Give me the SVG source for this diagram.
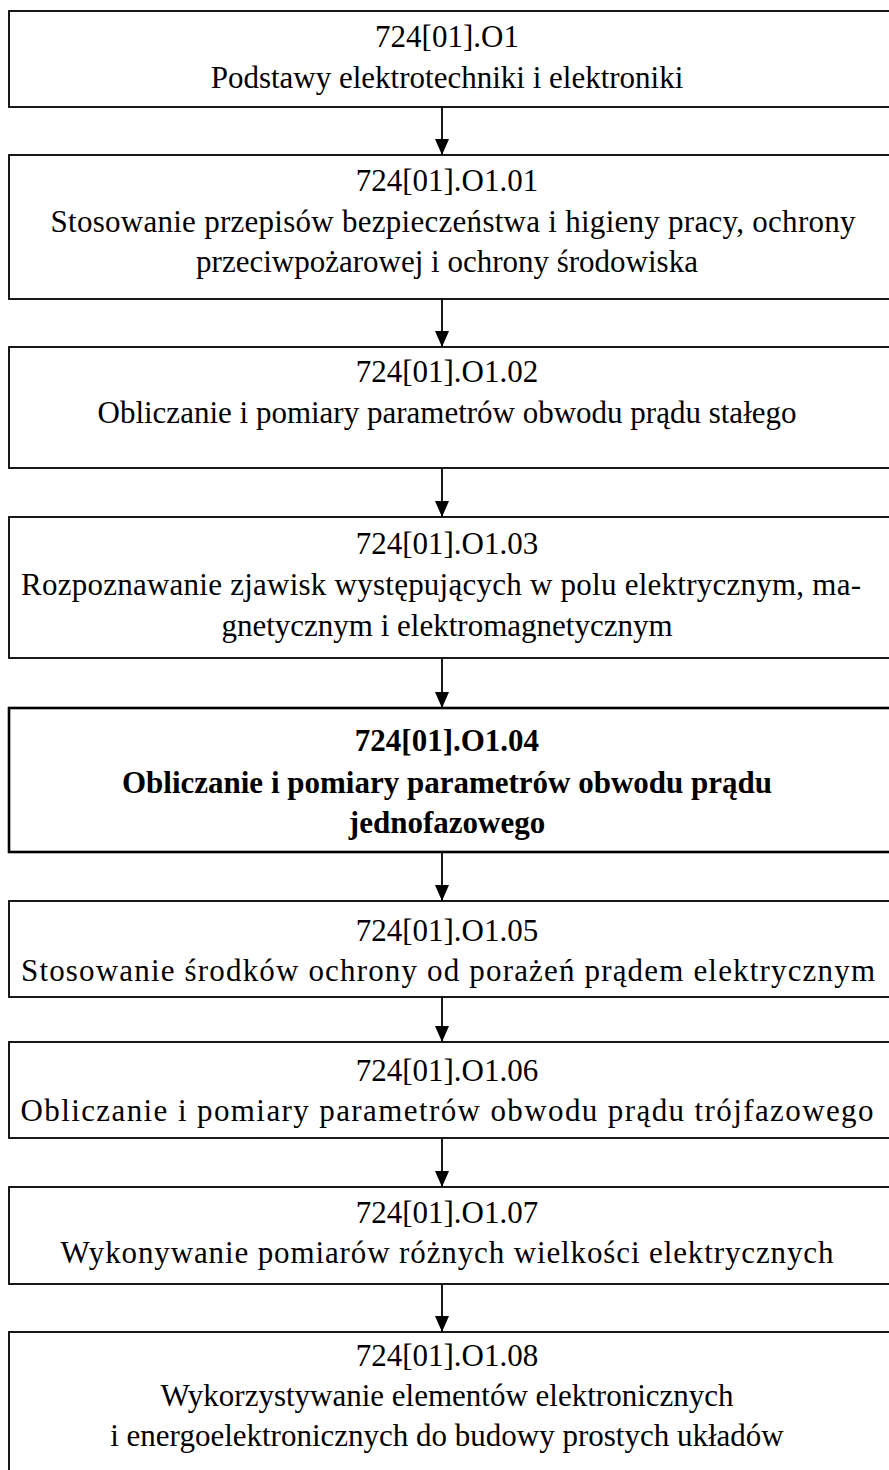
<svg xmlns="http://www.w3.org/2000/svg" width="889" height="1470" viewBox="0 0 889 1470">
<defs>
<marker id="ah" markerWidth="16" markerHeight="14" refX="16" refY="7" orient="auto" markerUnits="userSpaceOnUse" viewBox="0 0 16 14">
<path d="M0,0 L16,7 L0,14 Z" fill="#000"/>
</marker>
</defs>
<style>
.box{fill:#fff;stroke:#000;stroke-width:1.8}
.bbox{fill:#fff;stroke:#000;stroke-width:2.6}
.t{font-family:'Liberation Serif','Times New Roman','DejaVu Serif',serif;font-size:31px;fill:#000;text-anchor:middle}
.b{font-weight:bold}
.c{stroke:#000;stroke-width:1.8;fill:none}
</style>
<rect width="889" height="1470" fill="#fff"/>
<g id="n0"><rect class="box" x="9" y="11" width="890" height="96"/>
<text class="t" x="447" y="47">724[01].O1</text><text class="t" x="447" y="88">Podstawy elektrotechniki i elektroniki</text></g>
<g id="n1"><rect class="box" x="9" y="155" width="890" height="144"/>
<text class="t" x="447" y="191">724[01].O1.01</text><text class="t" x="453" y="232" textLength="805" lengthAdjust="spacing">Stosowanie przepisów bezpieczeństwa i higieny pracy, ochrony</text><text class="t" x="447" y="272">przeciwpożarowej i ochrony środowiska</text></g>
<g id="n2"><rect class="box" x="9" y="347" width="890" height="121"/>
<text class="t" x="447" y="382">724[01].O1.02</text><text class="t" x="447" y="423">Obliczanie i pomiary parametrów obwodu prądu stałego</text></g>
<g id="n3"><rect class="box" x="9" y="517" width="890" height="141"/>
<text class="t" x="447" y="554">724[01].O1.03</text><text class="t" x="441" y="595" textLength="840" lengthAdjust="spacing">Rozpoznawanie zjawisk występujących w polu elektrycznym, ma-</text><text class="t" x="447" y="636">gnetycznym i elektromagnetycznym</text></g>
<g id="n4"><rect class="bbox" x="9" y="708" width="890" height="144"/>
<text class="t b" x="447" y="751">724[01].O1.04</text><text class="t b" x="447" y="793">Obliczanie i pomiary parametrów obwodu prądu</text><text class="t b" x="447" y="833">jednofazowego</text></g>
<g id="n5"><rect class="box" x="9" y="901" width="890" height="96"/>
<text class="t" x="447" y="941">724[01].O1.05</text><text class="t" x="448" y="981" textLength="854" lengthAdjust="spacing">Stosowanie środków ochrony od porażeń prądem elektrycznym</text></g>
<g id="n6"><rect class="box" x="9" y="1042" width="890" height="96"/>
<text class="t" x="447" y="1081">724[01].O1.06</text><text class="t" x="447" y="1121" textLength="853" lengthAdjust="spacing">Obliczanie i pomiary parametrów obwodu prądu trójfazowego</text></g>
<g id="n7"><rect class="box" x="9" y="1187" width="890" height="97"/>
<text class="t" x="447" y="1223">724[01].O1.07</text><text class="t" x="447" y="1263" textLength="773" lengthAdjust="spacing">Wykonywanie pomiarów różnych wielkości elektrycznych</text></g>
<g id="n8"><rect class="box" x="9" y="1332" width="890" height="160"/>
<text class="t" x="447" y="1366">724[01].O1.08</text><text class="t" x="447" y="1406">Wykorzystywanie elementów elektronicznych</text><text class="t" x="447" y="1446">i energoelektronicznych do budowy prostych układów</text></g>
<g id="connectors">
<line class="c" x1="442" y1="107" x2="442" y2="155" marker-end="url(#ah)"/>
<line class="c" x1="442" y1="299" x2="442" y2="347" marker-end="url(#ah)"/>
<line class="c" x1="442" y1="468" x2="442" y2="517" marker-end="url(#ah)"/>
<line class="c" x1="442" y1="658" x2="442" y2="708" marker-end="url(#ah)"/>
<line class="c" x1="442" y1="852" x2="442" y2="901" marker-end="url(#ah)"/>
<line class="c" x1="442" y1="997" x2="442" y2="1042" marker-end="url(#ah)"/>
<line class="c" x1="442" y1="1138" x2="442" y2="1187" marker-end="url(#ah)"/>
<line class="c" x1="442" y1="1284" x2="442" y2="1332" marker-end="url(#ah)"/>
</g>
</svg>
